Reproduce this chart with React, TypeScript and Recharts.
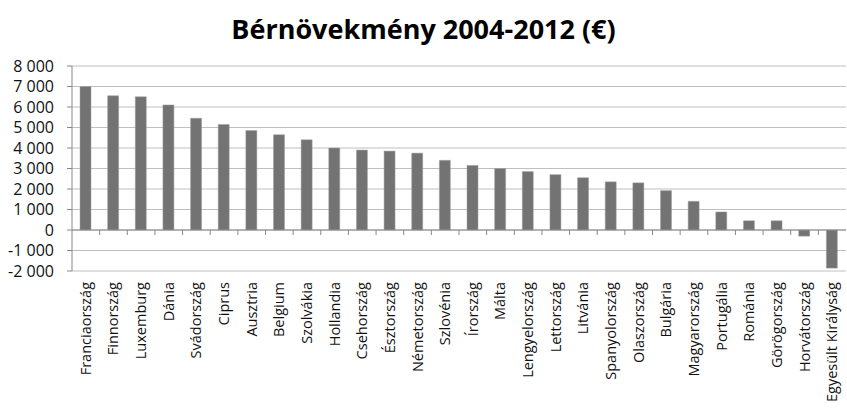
import React from 'react'
import { BarChart, Bar, XAxis, YAxis, CartesianGrid, ReferenceLine } from 'recharts'

const countries = [
  'Franciaország', 'Finnország', 'Luxemburg', 'Dánia', 'Svádország', 'Ciprus',
  'Ausztria', 'Belgium', 'Szolvákia', 'Hollandia', 'Csehország', 'Észtország',
  'Németország', 'Szlovénia', 'Írország', 'Málta', 'Lengyelország', 'Lettország',
  'Litvánia', 'Spanyolország', 'Olaszország', 'Bulgária', 'Magyarország',
  'Portugália', 'Románia', 'Görögország', 'Horvátország', 'Egyesült Királyság',
]

const wageGrowth = [
  7000, 6550, 6500, 6100, 5450, 5150,
  4850, 4650, 4400, 4000, 3900, 3850,
  3750, 3400, 3150, 3000, 2850, 2700,
  2550, 2350, 2300, 1920, 1400,
  880, 450, 450, -300, -1860,
]

const yTicks = [-2000, -1000, 0, 1000, 2000, 3000, 4000, 5000, 6000, 7000, 8000]
const Y_MIN = -2000
const Y_MAX = 8000

const data = countries.map((name, i) => ({ name, value: wageGrowth[i] }))

const FONT = '"Open Sans", sans-serif'
const W = 847
const H = 413
const TOP = 66
const AXIS_H = 142
const Y_W = 72
const RIGHT = 1

const fmt = (v: number) => {
  const s = Math.abs(v).toString().replace(/\B(?=(\d{3})+(?!\d))/g, ' ')
  return (v < 0 ? '-' : '') + s
}

// tick label + the small category-separator tick that Excel draws on the zero line
const RotatedTick = (props: any) => {
  const { x, y, payload, index } = props
  const plotH = H - TOP - AXIS_H
  const zeroY = TOP + (Y_MAX / (Y_MAX - Y_MIN)) * plotH
  const band = (W - Y_W - RIGHT) / countries.length
  const sepX = x - band / 2
  return (
    <g>
      {index > 0 && (
        <line x1={sepX} x2={sepX} y1={zeroY} y2={zeroY + 5} stroke="#888" />
      )}
      <text
        x={x}
        y={y}
        transform={`rotate(-90, ${x}, ${y})`}
        textAnchor="end"
        dy={5}
        dx={-3}
        fontFamily={FONT}
        fontSize={14.5}
        fill="#111"
      >
        {payload.value}
      </text>
    </g>
  )
}

export default function App() {
  return (
    <div style={{ position: 'absolute', left: 0, top: 0, width: W, height: H, background: '#fff' }}>
      <div style={{
        position:   'absolute',
        left:       0,
        top:        10,
        width:      W,
        textAlign:  'center',
        fontFamily: FONT,
        fontWeight: 700,
        fontSize:   27,
        color:      '#000',
      }}>
        Bérnövekmény 2004-2012 (€)
      </div>
      <BarChart
        width={W}
        height={H}
        data={data}
        margin={{ top: TOP, right: RIGHT, left: 0, bottom: 0 }}
        barSize={11}
      >
        <CartesianGrid vertical={false} stroke="#bfbfbf" />
        <XAxis
          dataKey="name"
          interval={0}
          axisLine={false}
          tickLine={false}
          height={AXIS_H}
          tick={<RotatedTick />}
        />
        <YAxis
          domain={[Y_MIN, Y_MAX]}
          ticks={yTicks}
          width={Y_W}
          interval={0}
          tickFormatter={fmt}
          stroke="#888"
          tickSize={5}
          tickMargin={13}
          tick={{ fontFamily: FONT, fontSize: 16, fill: '#111' }}
        />
        <ReferenceLine y={0} stroke="#888" />
        <Bar dataKey="value" fill="#737373" stroke="#a0a0a0" strokeWidth={0.5} isAnimationActive={false} />
      </BarChart>
    </div>
  )
}
